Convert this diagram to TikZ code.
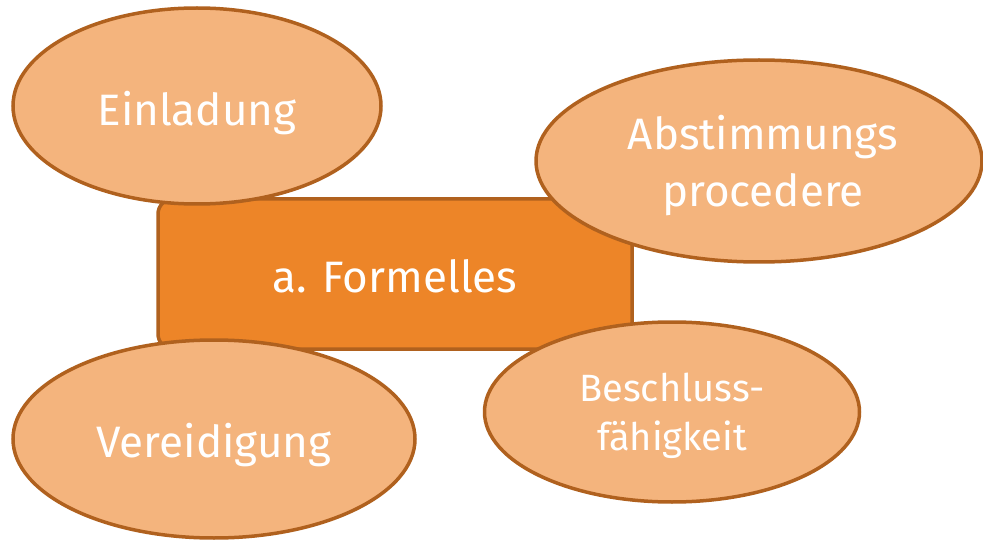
\documentclass[tikz,border=0pt]{standalone}
\usepackage{fontspec}
\setmainfont{Fira Sans}
\usetikzlibrary{shapes.geometric}
\definecolor{rectfill}{HTML}{ED8528}
\definecolor{edge}{HTML}{B0611E}
\definecolor{ellfill}{HTML}{F4B47D}
\tikzset{
  bubble/.style={ellipse, draw=edge, fill=ellfill, line width=3.5pt, inner sep=0pt},
  mainbox/.style={rectangle, rounded corners=15pt, draw=edge, fill=rectfill, line width=3.5pt, inner sep=0pt},
  lbl/.style={anchor=base, inner sep=0pt, text=white, font=\fontsize{44}{50}\selectfont},
  lblsmall/.style={anchor=base, inner sep=0pt, text=white, font=\fontsize{38}{44}\selectfont},
}
\begin{document}
\begin{tikzpicture}[x=1pt,y=-1pt]
\useasboundingbox (0,0) rectangle (983,540);
\node[mainbox, minimum width=474pt, minimum height=150pt] (main) at (395,274) {};
\node[lbl] (mainT) at (395,292) {a. Formelles};
\node[bubble, minimum width=368pt, minimum height=196pt] (einl) at (197,106) {};
\node[lbl] (einlT) at (197,126) {Einladung};
\node[bubble, minimum width=446pt, minimum height=202pt] (abst) at (759,161) {};
\node[lbl] (abstT1) at (763,150) {Abstimmungs};
\node[lbl] (abstT2) at (763,207) {procedere};
\node[bubble, minimum width=375pt, minimum height=180pt] (besch) at (672,412) {};
\node[lblsmall] (beschT1) at (672,401) {Beschluss-};
\node[lblsmall] (beschT2) at (672,450) {fähigkeit};
\node[bubble, minimum width=402pt, minimum height=198pt] (vere) at (214,439) {};
\node[lbl] (vereT) at (214,457) {Vereidigung};
\end{tikzpicture}
\end{document}
